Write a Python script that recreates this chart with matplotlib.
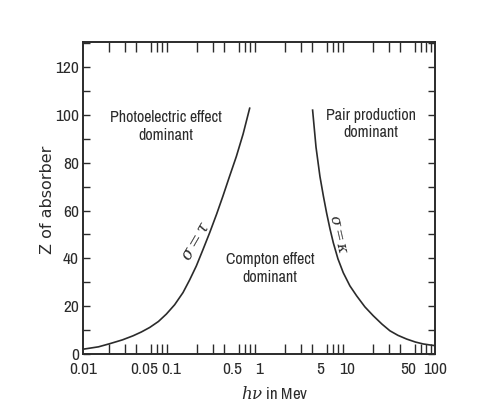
import matplotlib
matplotlib.use("Agg")
import matplotlib.pyplot as plt
from matplotlib.ticker import LogLocator, FixedLocator, NullFormatter

# sigma = tau : photoelectric and Compton cross sections are equal
pe_energy = [0.01, 0.015, 0.0201, 0.028, 0.037, 0.046, 0.0573, 0.072, 0.0886, 0.11,
             0.137, 0.163, 0.194, 0.23, 0.275, 0.33, 0.389, 0.46, 0.553, 0.66, 0.784]
pe_z = [2.0, 3.0, 4.3, 5.9, 7.6, 9.2, 11.1, 13.6, 16.7, 20.6,
        25.7, 31.0, 36.8, 43.5, 50.7, 58.5, 66.0, 74.0, 82.6, 92.0, 102.8]

# sigma = kappa : Compton and pair production cross sections are equal
pp_energy = [4.07, 4.45, 4.93, 5.4, 5.87, 6.4, 7.0, 7.9, 9.08, 10.8, 12.9,
             16.0, 19.9, 25.0, 30.8, 38.0, 47.7, 60.0, 73.6, 87.0, 100.0]
pp_z = [102.0, 86.5, 74.3, 66.0, 59.0, 52.5, 46.5, 39.8, 34.0, 28.5, 24.3,
        19.7, 16.0, 12.5, 9.7, 7.8, 6.25, 5.0, 4.2, 3.8, 3.5]

x_ticks = [0.01, 0.05, 0.1, 0.5, 1, 5, 10, 50, 100]
x_labels = ["0.01", "0.05", "0.1", "0.5", "1", "5", "10", "50", "100"]
y_ticks = [0, 20, 40, 60, 80, 100, 120]

plt.rcParams["font.family"] = ["Archivo Narrow", "Liberation Sans", "DejaVu Sans"]
plt.rcParams["mathtext.fontset"] = "dejavuserif"

ink = "#2b2b2b"

fig = plt.figure(figsize=(4.79, 4.03), dpi=100)
ax = fig.add_axes([0.1733, 0.1216, 0.7347, 0.7742])

ax.plot(pe_energy, pe_z, color=ink, lw=1.2)
ax.plot(pp_energy, pp_z, color=ink, lw=1.2)

ax.set_xscale("log")
ax.set_xlim(0.01, 100)
ax.set_ylim(0, 130.5)

ax.xaxis.set_major_locator(FixedLocator(x_ticks))
ax.set_xticklabels(x_labels)
ax.xaxis.set_minor_locator(LogLocator(base=10, subs=range(2, 10), numticks=20))
ax.xaxis.set_minor_formatter(NullFormatter())
ax.set_yticks(y_ticks)
ax.yaxis.set_minor_locator(FixedLocator(range(10, 131, 10)))

ax.tick_params(axis="x", which="major", direction="in", top=True, length=0,
               labelsize=12.5, colors=ink, pad=6)
ax.tick_params(axis="x", which="minor", direction="in", top=True, length=7.5,
               width=1.0, color=ink)
ax.tick_params(axis="y", which="both", direction="in", right=True, length=5,
               width=1.0, color=ink, labelcolor=ink, labelsize=12.5, pad=3)

for s in ax.spines.values():
    s.set_linewidth(1.4)
    s.set_color(ink)

ax.set_ylabel("Z of absorber", fontsize=11.5, color=ink, family="DejaVu Sans")
ax.yaxis.set_label_coords(-0.08, 0.494)
ax.set_xlabel(r"$h\nu$ in Mev", fontsize=12, color=ink)
ax.xaxis.set_label_coords(0.545, -0.10)

ax.text(0.088, 102, "Photoelectric effect\ndominant", ha="center", va="top",
        fontsize=11.5, color=ink, linespacing=1.2)
ax.text(18.7, 103, "Pair production\ndominant", ha="center", va="top",
        fontsize=11.5, color=ink, linespacing=1.2)
ax.text(1.33, 42.5, "Compton effect\ndominant", ha="center", va="top",
        fontsize=11.5, color=ink, linespacing=1.2)

ax.text(0.19, 47.5, r"$\sigma=\tau$", rotation=60, ha="center", va="center",
        fontsize=12, color=ink)
ax.text(7.9, 50, r"$\sigma=\kappa$", rotation=-77, ha="center", va="center",
        fontsize=11, color=ink)

fig.savefig("out.png", dpi=100, facecolor="white")
